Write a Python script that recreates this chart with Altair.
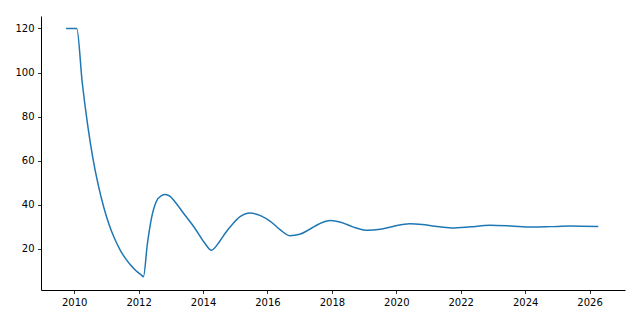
import altair as alt
import pandas as pd

years = [2009.75, 2010.08, 2010.25, 2010.42, 2010.58, 2010.75, 2010.92, 2011.08, 2011.25,
         2011.42, 2011.58, 2011.75, 2011.92, 2012.08, 2012.15,
         2012.27, 2012.40, 2012.55, 2012.71, 2012.83,
         2012.97, 2013.12, 2013.43, 2013.74, 2014.05, 2014.26,
         2014.52, 2014.70, 2014.92, 2015.15, 2015.45,
         2015.80, 2016.10, 2016.40, 2016.69, 2017.00, 2017.30, 2017.60, 2017.95,
         2018.30, 2018.65, 2019.12, 2019.50, 2019.90, 2020.42,
         2020.80, 2021.20, 2021.71, 2022.30, 2022.90, 2023.55, 2024.20, 2024.80, 2025.39, 2026.27]
values = [120, 120, 95.5, 76, 61.2, 48.8, 38.8, 31.2, 24.8,
          19.7, 15.9, 12.7, 10.1, 8.2, 7.4,
          22.0, 34.0, 41.5, 44.2, 44.7,
          43.9, 41.5, 35.5, 29.5, 22.7, 19.4,
          23.5, 27.3, 31.3, 34.6, 36.3,
          35.0, 32.4, 28.6, 26.0, 26.6, 28.8, 31.3, 32.9,
          32.0, 30.0, 28.4, 28.9, 30.2, 31.4,
          31.1, 30.3, 29.5, 30.0, 30.7, 30.4, 29.9, 30.1, 30.35, 30.1]

x_ticks = [2010, 2012, 2014, 2016, 2018, 2020, 2022, 2024, 2026]
y_ticks = [20, 40, 60, 80, 100, 120]

df = pd.DataFrame({"year": years, "value": values})

chart = alt.Chart(df).mark_line(color="#1f77b4", strokeWidth=1.5, interpolate="monotone").encode(
    x=alt.X("year:Q", scale=alt.Scale(domain=[2008.97, 2027.1], nice=False, zero=False),
            axis=alt.Axis(values=x_ticks, format="d", title=None, grid=False)),
    y=alt.Y("value:Q", scale=alt.Scale(domain=[1.35, 125.65], nice=False, zero=False),
            axis=alt.Axis(values=y_ticks, title=None, grid=False)),
).properties(
    width=584, height=274,
    autosize=alt.AutoSizeParams(type="none"),
    padding={"left": 41, "top": 16, "right": 15, "bottom": 30},
).configure_view(stroke=None).configure_axis(
    domainColor="black", domainWidth=1, tickColor="black", tickSize=3.5, tickWidth=0.8,
    labelColor="black", labelFontSize=10, labelFont="DejaVu Sans", labelPadding=3.5,
)

chart.save("out.html", embed_options={"renderer": "svg", "actions": False})
